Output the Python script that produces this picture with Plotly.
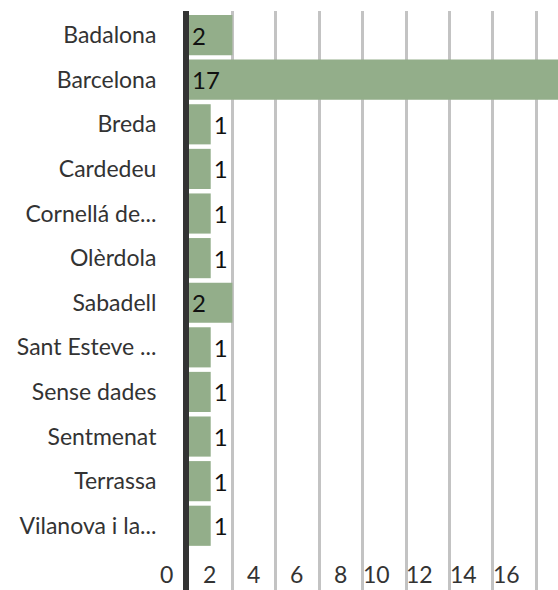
import plotly.graph_objects as go

categories = ["Badalona", "Barcelona", "Breda", "Cardedeu", "Cornellá de...", "Olèrdola",
              "Sabadell", "Sant Esteve ...", "Sense dades", "Sentmenat", "Terrassa", "Vilanova i la..."]
values = [2, 17, 1, 1, 1, 1, 2, 1, 1, 1, 1, 1]
x_ticks = [0, 2, 4, 6, 8, 10, 12, 14, 16]

FONT = "Lato"
positions = ["inside" if v >= 2 else "outside" for v in values]

fig = go.Figure(go.Bar(
    y=categories, x=values, orientation="h",
    marker=dict(color="#93AE8A", line=dict(width=0)),
    text=[str(v) for v in values], textposition=positions,
    insidetextanchor="start", constraintext="none",
    textfont=dict(family=FONT, size=24, color="#111111"),
    cliponaxis=False, hoverinfo="skip",
))

for t in x_ticks:
    fig.add_annotation(x=t, y=0, xref="x", yref="paper", text=str(t),
                       showarrow=False, xanchor="right", yanchor="bottom",
                       xshift=-14, yshift=0,
                       font=dict(family=FONT, size=23, color="#333333"))

fig.update_layout(
    width=558, height=590,
    margin=dict(l=189, r=0, t=11, b=0, autoexpand=False),
    plot_bgcolor="white", paper_bgcolor="white",
    bargap=0.1, showlegend=False, uniformtext=dict(mode=False),
    xaxis=dict(range=[0, 17], tickvals=x_ticks, showticklabels=False,
               showgrid=True, gridcolor="#c3c3c3", gridwidth=3,
               zeroline=False, showline=False, fixedrange=True, automargin=False),
    yaxis=dict(range=[12.44, -0.54], type="category",
               categoryorder="array", categoryarray=categories,
               showline=True, linecolor="#333333", linewidth=6,
               showgrid=False, zeroline=False, ticks="", automargin=False,
               ticklabelstandoff=22, fixedrange=True,
               tickfont=dict(family=FONT, size=23, color="#333333")),
)

fig.write_html("out.html", config={"displayModeBar": False},
               post_script="document.body.style.margin='0';document.body.style.overflow='hidden';")
